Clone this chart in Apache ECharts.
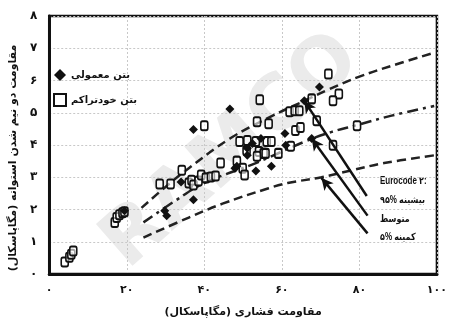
<!DOCTYPE html>
<html>
<head>
<meta charset="utf-8">
<script src="https://cdn.jsdelivr.net/npm/echarts@6/dist/echarts.min.js"></script>
<style>
  html, body { margin: 0; padding: 0; background: #fff; }
  #chart { width: 450px; height: 323px; }
</style>
</head>
<body>
<div id="chart"></div>
<script>
// tick labels (Persian digits)
const xTickLabels = ['۰', '۲۰', '۴۰', '۶۰', '۸۰', '۱۰۰']
const yTickLabels = ['۰', '۱', '۲', '۳', '۴', '۵', '۶', '۷', '۸']

// self-compacting concrete (hollow squares) [fc, fct]
const sccPoints = [
  [4.0, 0.37], [5.2, 0.52], [5.7, 0.61], [6.2, 0.71],
  [16.9, 1.60], [17.4, 1.75], [18.1, 1.84], [18.9, 1.90], [19.4, 1.93],
  [28.5, 2.79], [31.3, 2.79], [34.2, 3.22], [36.0, 2.82], [36.7, 2.91],
  [37.2, 2.76], [38.5, 2.88], [39.2, 3.07], [40.4, 2.98], [41.7, 3.01],
  [42.9, 3.04], [40.0, 4.60], [44.2, 3.44], [48.4, 3.50], [49.9, 3.28],
  [50.4, 3.07], [49.1, 4.11], [51.1, 4.14], [53.3, 4.11], [50.9, 3.83],
  [54.1, 3.80], [55.3, 3.74], [56.1, 4.11], [57.3, 4.11], [53.6, 4.72],
  [56.6, 4.66], [54.3, 5.40], [62.0, 5.03], [63.3, 5.06], [64.5, 5.06],
  [63.5, 4.45], [64.8, 4.54], [62.3, 3.96], [59.1, 3.74], [55.8, 3.74],
  [53.6, 3.65], [72.0, 6.20], [74.7, 5.58], [73.2, 5.37], [67.7, 5.43],
  [69.0, 4.75], [73.2, 3.99], [79.4, 4.60]
]

// normal concrete (filled diamonds)
const normalPoints = [
  [19.4, 1.96], [29.8, 1.96], [30.3, 1.81], [34.0, 2.85], [37.2, 2.30],
  [37.2, 4.48], [46.6, 5.12], [47.9, 3.28], [52.4, 4.05], [54.6, 4.20],
  [51.1, 3.90], [51.1, 3.68], [48.4, 3.34], [53.3, 3.19], [57.3, 3.34],
  [60.8, 4.36], [61.0, 3.99], [65.8, 5.37], [69.7, 5.80], [67.7, 4.20]
]

// Eurocode 2 curves
const upper95 = [
  [23.8, 2.05], [30, 2.70], [36, 3.28], [46.6, 4.20], [56.6, 4.85],
  [65.8, 5.37], [72, 5.72], [80, 6.12], [90, 6.52], [99.5, 6.87]
]
const meanCurve = [
  [24.3, 1.60], [32.5, 2.27], [40, 2.82], [53.3, 3.44], [66, 4.11],
  [72.7, 4.40], [79.4, 4.62], [88.3, 4.91], [99.3, 5.21]
]
const lower5 = [
  [24.3, 1.13], [36, 1.75], [44.7, 2.18], [56.6, 2.66], [61.5, 2.82],
  [70.2, 3.00], [78.2, 3.22], [86.4, 3.44], [99.3, 3.68]
]

// arrows: [tail, head] in data units
const arrows = [
  [[81.9, 2.42], [65.8, 5.37]],
  [[82.1, 1.81], [67.7, 4.20]],
  [[82.1, 1.26], [70.2, 2.98]]
]

const faFont = 'DejaVu Sans'
const RLM = '\u200F'
const LRM = '\u200E'
const noteFont = 'bold 10px "Liberation Sans", "DejaVu Sans"'

const chart = echarts.init(document.getElementById('chart'))

const curveStyle = (dash) => ({
  type: 'line',
  smooth: 0.4,
  symbol: 'none',
  silent: true,
  lineStyle: { color: '#222', width: 2.5, type: dash },
  z: 3
})

const note = (text, y) => ({
  type: 'text', x: 0, y: y, scaleX: 0.8,
  style: { text: text, font: noteFont, fill: '#111' }
})

const option = {
  animation: false,
  grid: {
    left: 42, right: 5, top: 16, bottom: 46,
    show: true, borderColor: '#111', borderWidth: 2.5
  },
  legend: {
    orient: 'vertical',
    left: 48, top: 64,
    itemWidth: 12, itemHeight: 12, itemGap: 12,
    textStyle: { fontFamily: faFont, fontSize: 10, fontWeight: 'bold', color: '#111' },
    data: [
      { name: 'بتن معمولی', icon: 'diamond' },
      { name: 'بتن خودتراکم', icon: 'rect' }
    ]
  },
  xAxis: {
    type: 'value', min: 0, max: 100, interval: 20,
    name: 'مقاومت فشاری (مگاپاسکال)' + RLM,
    nameLocation: 'middle', nameGap: 33,
    nameTextStyle: { fontFamily: faFont, fontSize: 11, fontWeight: 'bold', color: '#111' },
    axisLine: { show: true, lineStyle: { color: '#111', width: 3 } },
    axisTick: { show: false },
    axisLabel: {
      margin: 11, color: '#111', fontFamily: faFont, fontSize: 11, fontWeight: 'bold',
      formatter: (v) => xTickLabels[Math.round(v / 20)]
    },
    splitLine: { show: true, lineStyle: { color: '#c8c8c8', type: [2, 2], width: 1 } }
  },
  yAxis: {
    type: 'value', min: 0, max: 8, interval: 1,
    name: 'مقاومت دو نیم شدن استوانه (مگاپاسکال)' + RLM,
    nameLocation: 'middle', nameGap: 29, nameRotate: 90,
    nameTextStyle: { fontFamily: faFont, fontSize: 11, fontWeight: 'bold', color: '#111', padding: [0, 0, 0, -26] },
    axisLine: { show: true, lineStyle: { color: '#111', width: 3 } },
    axisTick: { show: false },
    axisLabel: {
      margin: 12, color: '#111', fontFamily: faFont, fontSize: 12, fontWeight: 'bold',
      formatter: (v) => yTickLabels[v]
    },
    splitLine: { show: true, lineStyle: { color: '#c8c8c8', type: [2, 2], width: 1 } }
  },
  graphic: [
    {
      type: 'text', z: -10, silent: true,
      x: 232, y: 152, rotation: 0.72,
      style: { text: 'RAMCO', font: 'bold 76px "DejaVu Sans"', fill: '#ebebeb', align: 'center', verticalAlign: 'middle' }
    },
    {
      type: 'group', left: 380, top: 176, silent: true,
      children: [
        note('Eurocode ۲:', 0),
        note(LRM + '۹۵%' + LRM + ' بیشینه', 19),
        note('متوسط', 38),
        note(LRM + '۵%' + LRM + ' کمینه', 56)
      ]
    }
  ],
  series: [
    Object.assign(curveStyle([9, 5]), { name: 'upper95', data: upper95 }),
    Object.assign(curveStyle([11, 5, 3, 5]), { name: 'mean', data: meanCurve }),
    Object.assign(curveStyle([9, 5]), {
      name: 'lower5', data: lower5,
      markLine: {
        silent: true,
        symbol: ['none', 'arrow'],
        symbolSize: [9, 12],
        label: { show: false },
        lineStyle: { color: '#111', width: 2.5, type: 'solid' },
        data: arrows.map(([t, h]) => [{ coord: t }, { coord: h }])
      }
    }),
    {
      name: 'بتن خودتراکم', type: 'scatter', data: sccPoints,
      symbol: 'roundRect', symbolSize: [7, 9],
      itemStyle: { color: 'rgba(255,255,255,0.6)', borderColor: '#111', borderWidth: 1.8, opacity: 1 },
      z: 4
    },
    {
      name: 'بتن معمولی', type: 'scatter', data: normalPoints,
      symbol: 'diamond', symbolSize: 9,
      itemStyle: { color: '#111', opacity: 1 },
      z: 5
    }
  ]
}

chart.setOption(option)
window.addEventListener('resize', () => chart.resize())
</script>
</body>
</html>
